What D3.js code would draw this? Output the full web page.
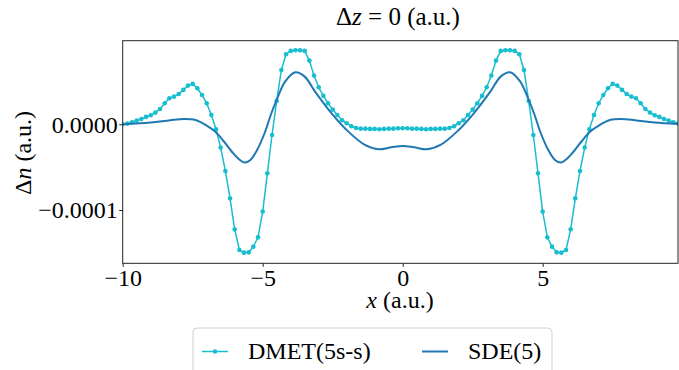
<!DOCTYPE html>
<html>
<head>
<meta charset="utf-8">
<script src="https://cdn.jsdelivr.net/npm/d3@7"></script>
</head>
<body style="margin:0">
<svg id="chart" width="679" height="370" style="font-family: 'Liberation Serif', serif; background: #fff"></svg>
<script>
// DMET(5s-s): sampled on x = -10 + k/6, k = 0..119 (values in units of 1e-4)
const dmetX = d3.range(120).map(k => -10 + k / 6);
const dmetY = [
  0, 0.008, 0.023, 0.043, 0.062, 0.086, 0.105, 0.136, 0.179, 0.245,
  0.303, 0.323, 0.354, 0.401, 0.451, 0.471, 0.420, 0.342, 0.245, 0.109,
  -0.058, -0.272, -0.545, -0.864, -1.226, -1.467, -1.498, -1.494, -1.428, -1.319,
  -1.019, -0.572, -0.125, 0.272, 0.634, 0.817, 0.856, 0.864, 0.864, 0.856,
  0.743, 0.568, 0.432, 0.331, 0.245, 0.171, 0.109, 0.047, 0.012, -0.023,
  -0.043, -0.051, -0.051, -0.054, -0.054, -0.058, -0.054, -0.051, -0.051, -0.047,
  -0.047, -0.047, -0.051, -0.051, -0.054, -0.058, -0.054, -0.054, -0.051, -0.051,
  -0.043, -0.023, 0.012, 0.047, 0.109, 0.171, 0.245, 0.331, 0.432, 0.568,
  0.743, 0.856, 0.864, 0.864, 0.856, 0.817, 0.634, 0.272, -0.125, -0.572,
  -1.019, -1.319, -1.428, -1.494, -1.498, -1.467, -1.226, -0.864, -0.545, -0.272,
  -0.058, 0.109, 0.245, 0.342, 0.420, 0.471, 0.451, 0.401, 0.354, 0.323,
  0.303, 0.245, 0.179, 0.136, 0.105, 0.086, 0.062, 0.043, 0.023, 0.008
];

// SDE(5): smooth curve through these points (units of 1e-4)
const sdeX = [-10, -9, -8.3, -7.8, -7.4, -7.0, -6.7, -6.4, -6.05, -5.8, -5.65, -5.45, -5.2, -4.92, -4.7,
  -4.5, -4.2, -3.83, -3.5, -3.13, -2.54, -1.94, -1.35, -0.87, -0.4, 0,
  0.4, 0.87, 1.35, 1.94, 2.54, 3.13, 3.5, 3.83, 4.2, 4.5, 4.7, 4.92, 5.2, 5.45, 5.65, 5.8,
  6.05, 6.4, 6.7, 7.0, 7.4, 7.8, 8.3, 9, 10];
const sdeY = [0, 0.020, 0.048, 0.062, 0.050, -0.015, -0.085, -0.195, -0.339, -0.42, -0.447, -0.42, -0.30, -0.093, 0.12,
  0.284, 0.498, 0.607, 0.556, 0.381, 0.128, -0.086, -0.241, -0.292, -0.268, -0.253,
  -0.268, -0.292, -0.241, -0.086, 0.128, 0.381, 0.556, 0.607, 0.498, 0.284, 0.12, -0.093, -0.30, -0.42, -0.447, -0.42,
  -0.339, -0.195, -0.085, -0.015, 0.050, 0.062, 0.048, 0.020, 0];

const xTicks = [-10, -5, 0, 5];
const xTickLabels = ["−10", "−5", "0", "5"];
const yTicks = [0, -0.0001];
const yTickLabels = ["0.0000", "−0.0001"];

const seriesNames = ["DMET(5s-s)", "SDE(5)"];
const colors = ["#17becf", "#1f77b4"];

const FONT = "Liberation Serif";

const svg = d3.select("#chart");
const mLeft = 122.7, mRight = 678, mTop = 40.7, mBottom = 263.3;

const x = d3.scaleLinear().domain([-10, dmetX[dmetX.length - 1]]).range([mLeft, mRight]);
const y = d3.scaleLinear().domain([-1.622e-4, 0.975e-4]).range([mBottom, mTop]);

svg.append("defs").append("clipPath").attr("id", "clip")
  .append("rect").attr("x", mLeft).attr("y", mTop)
  .attr("width", mRight - mLeft).attr("height", mBottom - mTop);

const dmet = dmetX.map((v, i) => ({ x: v, y: dmetY[i] * 1e-4 }));
const sde = sdeX.map((v, i) => ({ x: v, y: sdeY[i] * 1e-4 }));

const plot = svg.append("g").attr("clip-path", "url(#clip)");

plot.append("path")
  .datum(dmet)
  .attr("fill", "none")
  .attr("stroke", colors[0])
  .attr("stroke-width", 1.5)
  .attr("d", d3.line().x(d => x(d.x)).y(d => y(d.y)));

plot.selectAll("circle.dmet")
  .data(dmet)
  .enter().append("circle")
  .attr("class", "dmet")
  .attr("cx", d => x(d.x))
  .attr("cy", d => y(d.y))
  .attr("r", 2.3)
  .attr("fill", colors[0]);

plot.append("path")
  .datum(sde)
  .attr("fill", "none")
  .attr("stroke", colors[1])
  .attr("stroke-width", 2)
  .attr("d", d3.line().curve(d3.curveCatmullRom.alpha(0.5)).x(d => x(d.x)).y(d => y(d.y)));

// frame
svg.append("rect")
  .attr("x", mLeft).attr("y", mTop)
  .attr("width", mRight - mLeft).attr("height", mBottom - mTop)
  .attr("fill", "none").attr("stroke", "#222").attr("stroke-width", 1);

// text helper, serif like the LaTeX labels of the original
function serif(sel, size) {
  return sel.style("font-family", FONT).style("font-size", size + "px").attr("fill", "#000");
}

// x axis
const xAxis = svg.append("g")
  .attr("transform", `translate(0,${mBottom})`)
  .call(d3.axisBottom(x).tickValues(xTicks).tickSize(3.5)
    .tickFormat((d, i) => xTickLabels[i]));
xAxis.attr("font-family", null).attr("font-size", null);
xAxis.select(".domain").remove();
xAxis.selectAll("line").attr("stroke", "#222");
serif(xAxis.selectAll("text").attr("y", 22.5).attr("dy", 0), 24);

// y axis
const yAxis = svg.append("g")
  .attr("transform", `translate(${mLeft},0)`)
  .call(d3.axisLeft(y).tickValues(yTicks).tickSize(3.5)
    .tickFormat((d, i) => yTickLabels[i]));
yAxis.attr("font-family", null).attr("font-size", null);
yAxis.select(".domain").remove();
yAxis.selectAll("line").attr("stroke", "#222");
serif(yAxis.selectAll("text").attr("x", -5).attr("dy", "0.33em"), 24);

// title
const title = serif(svg.append("text")
  .attr("x", 398).attr("y", 25)
  .attr("text-anchor", "middle"), 25);
title.append("tspan").text("Δ");
title.append("tspan").attr("font-style", "italic").text("z");
title.append("tspan").text(" = 0 (a.u.)");

// x label
const xl = serif(svg.append("text")
  .attr("x", 400).attr("y", 308)
  .attr("text-anchor", "middle"), 24);
xl.append("tspan").attr("font-style", "italic").text("x");
xl.append("tspan").text(" (a.u.)");

// y label
const yl = serif(svg.append("text")
  .attr("transform", "translate(31,153) rotate(-90)")
  .attr("text-anchor", "middle"), 24);
yl.append("tspan").text("Δ");
yl.append("tspan").attr("font-style", "italic").text("n");
yl.append("tspan").text(" (a.u.)");

// legend
const lg = svg.append("g");
lg.append("rect")
  .attr("x", 193).attr("y", 328).attr("width", 359).attr("height", 50)
  .attr("rx", 4)
  .attr("fill", "#fff").attr("stroke", "#d0d0d0").attr("stroke-width", 1);

const legendItems = [
  { name: seriesNames[0], color: colors[0], x0: 202, marker: true, width: 1.5 },
  { name: seriesNames[1], color: colors[1], x0: 422, marker: false, width: 2 }
];
legendItems.forEach(it => {
  lg.append("line")
    .attr("x1", it.x0).attr("x2", it.x0 + 26)
    .attr("y1", 351.5).attr("y2", 351.5)
    .attr("stroke", it.color).attr("stroke-width", it.width);
  if (it.marker) {
    lg.append("circle").attr("cx", it.x0 + 13).attr("cy", 351.5)
      .attr("r", 2.3).attr("fill", it.color);
  }
  serif(lg.append("text").attr("x", it.x0 + 46).attr("y", 359), 24)
    .text(it.name);
});
</script>
</body>
</html>
